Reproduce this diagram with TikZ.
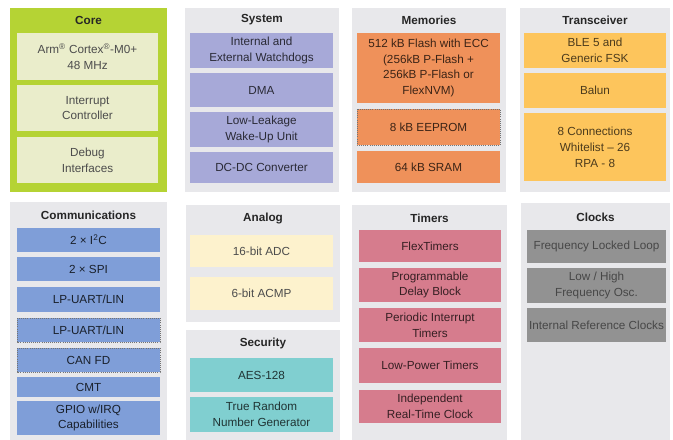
\documentclass[tikz,border=0pt]{standalone}
\usepackage{fontspec}
\setmainfont{Liberation Sans}
\usepackage{tikz}
\definecolor{blkpanel}{HTML}{E8E8EB}
\definecolor{blkcore}{HTML}{B5D334}
\definecolor{blkcorein}{HTML}{EAEDCB}
\definecolor{blksys}{HTML}{A7A9D8}
\definecolor{blkmem}{HTML}{EF915A}
\definecolor{blkrf}{HTML}{FDC55C}
\definecolor{blkcom}{HTML}{7F9ED8}
\definecolor{blkana}{HTML}{FDF2CD}
\definecolor{blksec}{HTML}{80CFD0}
\definecolor{blktmr}{HTML}{D67C8D}
\definecolor{blkclk}{HTML}{929292}

\begin{document}
\begin{tikzpicture}[x=0.03cm,y=-0.03cm,line join=round,
  panel/.style={fill=blkpanel},
  title/.style={font=\bfseries\fontsize{10}{12}\selectfont,text=black!85},
  txt/.style={font=\fontsize{10}{13.5}\selectfont,align=center},
  dotbox/.style={draw=black!55,densely dotted,line width=.8pt}]
\path[use as bounding box] (0,0) rectangle (673,439);
\fill[white] (0,0) rectangle (673,439);

% Core
\fill[blkcore] (10,8) rectangle (167,192);
\node[title] (core) at (88.5,20) {Core};
\path[fill=blkcorein] (17,33) rectangle (158,80)
  node[midway,txt,text=black!70] (cpu) {Arm\textsuperscript{\textregistered} Cortex\textsuperscript{\textregistered}-M0+\\48 MHz};
\path[fill=blkcorein] (17,85) rectangle (158,131)
  node[midway,txt,text=black!70] (nvic) {Interrupt\\Controller};
\path[fill=blkcorein] (17,137) rectangle (158,183)
  node[midway,txt,text=black!70] (dbg) {Debug\\Interfaces};

% System
\fill[panel] (185,8) rectangle (339,192);
\node[title] (sys) at (262,20) {System};
\foreach \ya/\yb/\nm/\lbl in {33/68/wdog/{Internal and\\External Watchdogs},
    73/107/dma/{DMA}, 112/147/llwu/{Low-Leakage\\Wake-Up Unit},
    152/183/dcdc/{DC-DC Converter}}
  \path[fill=blksys] (190,\ya) rectangle (333,\yb)
    node[midway,txt,text=blksys!25!black] (\nm) {\lbl};

% Memories
\fill[panel] (352,8) rectangle (506,192);
\node[title] (mem) at (429,20) {Memories};
\path[fill=blkmem] (357,33) rectangle (500,103)
  node[midway,txt,text=blkmem!25!black] (flash) {512 kB Flash with ECC\\(256kB P-Flash +\\256kB P-Flash or\\FlexNVM)};
\path[fill=blkmem,dotbox] (357,109) rectangle (500,145)
  node[midway,txt,text=blkmem!25!black] (eeprom) {8 kB EEPROM};
\path[fill=blkmem] (357,151) rectangle (500,183)
  node[midway,txt,text=blkmem!25!black] (sram) {64 kB SRAM};

% Transceiver
\fill[panel] (520,8) rectangle (670,192);
\node[title] (rf) at (595,20) {Transceiver};
\path[fill=blkrf] (524,33) rectangle (666,68)
  node[midway,txt,text=blkrf!30!black] (ble) {BLE 5 and\\Generic FSK};
\path[fill=blkrf] (524,73) rectangle (666,108)
  node[midway,txt,text=blkrf!30!black] (balun) {Balun};
\path[fill=blkrf] (524,113) rectangle (666,181)
  node[midway,txt,text=blkrf!30!black] (conn) {8 Connections\\Whitelist -- 26\\RPA - 8};

% Communications
\fill[panel] (10,202) rectangle (167,441);
\node[title] (com) at (88.5,215) {Communications};
\foreach \ya/\yb/\nm/\lbl in {228/252/iic/{2 × I\textsuperscript{2}C},
    257/281/spi/{2 × SPI}, 287/312/uarta/{LP-UART/LIN},
    377/397/cmt/{CMT}, 401/435/gpio/{GPIO w/IRQ\\Capabilities}}
  \path[fill=blkcom] (17,\ya) rectangle (160,\yb)
    node[midway,txt,text=blkcom!20!black] (\nm) {\lbl};
\path[fill=blkcom,dotbox] (17,318) rectangle (160,342)
  node[midway,txt,text=blkcom!20!black] (uartb) {LP-UART/LIN};
\path[fill=blkcom,dotbox] (17,348) rectangle (160,372)
  node[midway,txt,text=blkcom!20!black] (can) {CAN FD};

% Analog
\fill[panel] (186,205) rectangle (340,322);
\node[title] (ana) at (263,218) {Analog};
\path[fill=blkana] (190,235) rectangle (333,267)
  node[midway,txt,text=black!70] (adc) {16-bit ADC};
\path[fill=blkana] (190,277) rectangle (333,310)
  node[midway,txt,text=black!70] (acmp) {6-bit ACMP};

% Security
\fill[panel] (186,330) rectangle (340,441);
\node[title] (sec) at (263,343) {Security};
\path[fill=blksec] (190,358) rectangle (333,392)
  node[midway,txt,text=blksec!25!black] (aes) {AES-128};
\path[fill=blksec] (190,397) rectangle (333,432)
  node[midway,txt,text=blksec!25!black] (trng) {True Random\\Number Generator};

% Timers
\fill[panel] (352,205) rectangle (507,441);
\node[title] (tmr) at (429.5,218) {Timers};
\foreach \ya/\yb/\nm/\lbl in {230/262/ftm/{FlexTimers},
    268/302/pdb/{Programmable\\Delay Block}, 308/342/pit/{Periodic Interrupt\\Timers},
    348/383/lptmr/{Low-Power Timers}, 390/423/rtc/{Independent\\Real-Time Clock}}
  \path[fill=blktmr] (359,\ya) rectangle (501,\yb)
    node[midway,txt,text=blktmr!25!black] (\nm) {\lbl};

% Clocks
\fill[panel] (521,203) rectangle (670,441);
\node[title] (clk) at (595.5,217) {Clocks};
\foreach \ya/\yb/\nm/\lbl in {230/263/fll/{Frequency Locked Loop},
    268/303/osc/{Low / High\\Frequency Osc.}, 308/342/irc/{Internal Reference Clocks}}
  \path[fill=blkclk] (527,\ya) rectangle (666,\yb)
    node[midway,txt,text=black!72] (\nm) {\lbl};
\end{tikzpicture}
\end{document}
